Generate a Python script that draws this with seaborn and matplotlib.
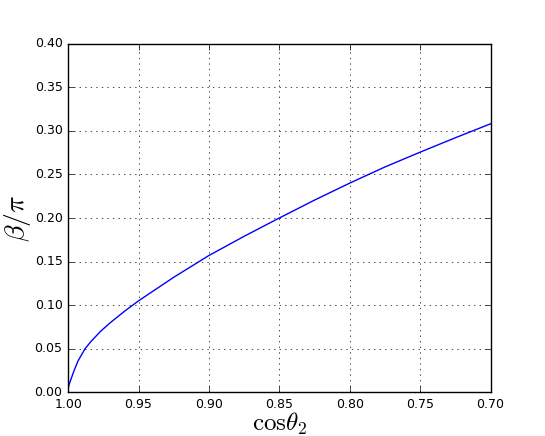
import matplotlib
matplotlib.use("Agg")
import matplotlib.pyplot as plt
import seaborn as sns
import pandas as pd

# values
cos_theta2 = [1.000, 0.9999, 0.9995, 0.998, 0.996, 0.993, 0.988, 0.984, 0.977, 0.970, 0.960,
              0.950, 0.925, 0.900, 0.875, 0.850, 0.825, 0.800, 0.775, 0.750, 0.725, 0.700]
beta_over_pi = [0.000, 0.004, 0.008, 0.015, 0.024, 0.036, 0.050, 0.058, 0.070, 0.080, 0.093,
                0.105, 0.132, 0.157, 0.179, 0.200, 0.2205, 0.240, 0.2585, 0.2755, 0.292, 0.308]

x_ticks = [1.00, 0.95, 0.90, 0.85, 0.80, 0.75, 0.70]
y_ticks = [0.00, 0.05, 0.10, 0.15, 0.20, 0.25, 0.30, 0.35, 0.40]

df = pd.DataFrame({"cos": cos_theta2, "beta": beta_over_pi})

plt.style.use("classic")
plt.rcParams["mathtext.fontset"] = "cm"
plt.rcParams["font.family"] = ["DejaVu Sans"]

fig = plt.figure(figsize=(5.45, 4.36), dpi=100, facecolor="white")
ax = fig.add_subplot(111)
sns.lineplot(data=df, x="cos", y="beta", color="b", linewidth=1.0, sort=False, ax=ax)

ax.set_xlim(1.0, 0.7)
ax.set_ylim(0.0, 0.4)
ax.set_xticks(x_ticks)
ax.set_yticks(y_ticks)
ax.set_xticklabels(["%.2f" % t for t in x_ticks])
ax.set_yticklabels(["%.2f" % t for t in y_ticks])
ax.tick_params(labelsize=9)
ax.grid(True, color="k", linestyle=":", linewidth=0.5)

ax.set_xlabel(r"$\mathrm{cos}\theta_2$", fontsize=18, labelpad=0)
ax.set_ylabel(r"$\beta/\pi$", fontsize=20, labelpad=1)

fig.savefig("out.png", dpi=100, facecolor="white")
